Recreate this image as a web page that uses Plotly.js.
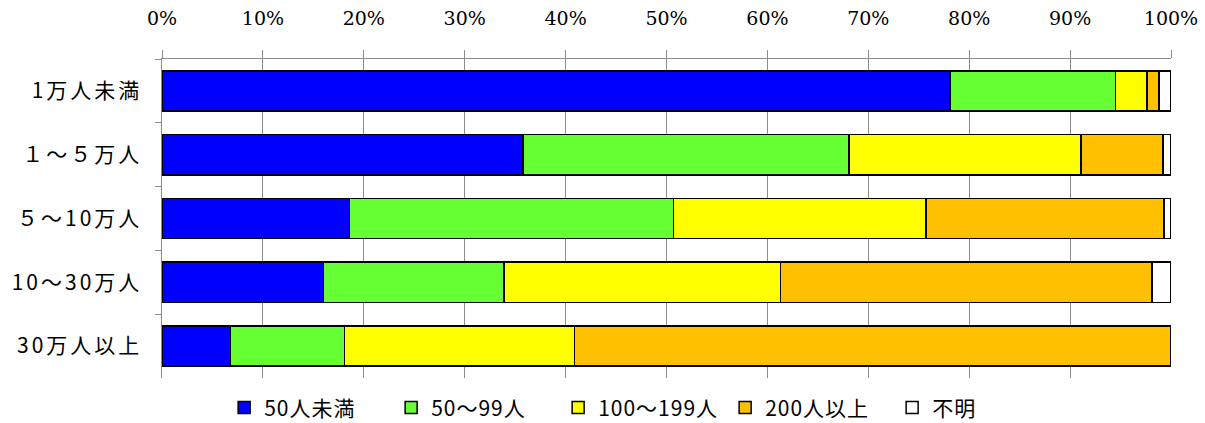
<!DOCTYPE html>
<html><head><meta charset="utf-8">
<script src="https://cdn.plot.ly/plotly-3.0.1.min.js"></script>
<style>
html,body{margin:0;padding:0;background:#fff}#chart{width:1205px;height:423px}
.yaxislayer-above text{letter-spacing:3px}
.legend text.legendtext{letter-spacing:1px}
</style>
</head><body><div id="chart"></div>
<script>
const categories = ["1万人未満", "１～５万人", "５～10万人", "10～30万人", "30万人以上"];
const seriesNames = ["50人未満", "50～99人", "100～199人", "200人以上", "不明"];
const under50   = [78.1, 35.8, 18.6, 16.0, 6.8];
const s50to99   = [16.4, 32.3, 32.1, 17.9, 11.3];
const s100to199 = [3.1, 23.0, 25.0, 27.4, 22.8];
const over200   = [1.2, 8.1, 23.6, 36.8, 59.1];
const unknown   = [1.2, 0.8, 0.7, 1.9, 0.0];
const xTickVals = [0,10,20,30,40,50,60,70,80,90,100];
const xTickText = ["0%","10%","20%","30%","40%","50%","60%","70%","80%","90%","100%"];
const colors = ["#0000FF", "#66FF33", "#FFFF00", "#FFC000", "#FFFFFF"];

const seriesValues = [under50, s50to99, s100to199, over200, unknown];
const traces = seriesValues.map((vals, i) => ({
  type: "bar", orientation: "h",
  name: seriesNames[i], y: categories, x: vals,
  marker: {color: colors[i], line: {color: "#000", width: 1.5}},
  hoverinfo: "x+name"
}));

const layout = {
  width: 1205, height: 423,
  margin: {l: 162, r: 34, t: 59, b: 45},
  barmode: "stack", bargap: 0.37,
  paper_bgcolor: "#fff", plot_bgcolor: "#fff",
  showlegend: true,
  legend: {orientation: "h", xref: "container", yref: "container",
           x: 0.186, xanchor: "left", y: 0.036, yanchor: "middle",
           font: {family: "Noto Sans CJK JP, sans-serif", size: 21, color: "#000"},
           itemwidth: 30, entrywidth: 122, entrywidthmode: "pixels", traceorder: "normal"},
  xaxis: {side: "top", range: [0, 100], tickvals: xTickVals, ticktext: xTickText,
          showgrid: true, gridcolor: "#8c8c8c", gridwidth: 1,
          showline: true, linecolor: "#8c8c8c", linewidth: 1.5,
          ticks: "outside", ticklen: 8, tickcolor: "#8c8c8c", tickwidth: 1,
          ticklabelstandoff: 17,
          tickfont: {family: "DejaVu Serif, serif", size: 19, color: "#000"},
          zeroline: false, fixedrange: true},
  yaxis: {type: "category", autorange: "reversed",
          showline: true, linecolor: "#8c8c8c", linewidth: 1.5,
          ticks: "outside", tickson: "boundaries", ticklen: 6, tickcolor: "#8c8c8c",
          ticklabelstandoff: 14,
          tickfont: {family: "Noto Sans CJK JP, sans-serif", size: 21, color: "#000"},
          showgrid: false, fixedrange: true}
};
Plotly.newPlot("chart", traces, layout, {displayModeBar: false, staticPlot: true});
</script></body></html>
